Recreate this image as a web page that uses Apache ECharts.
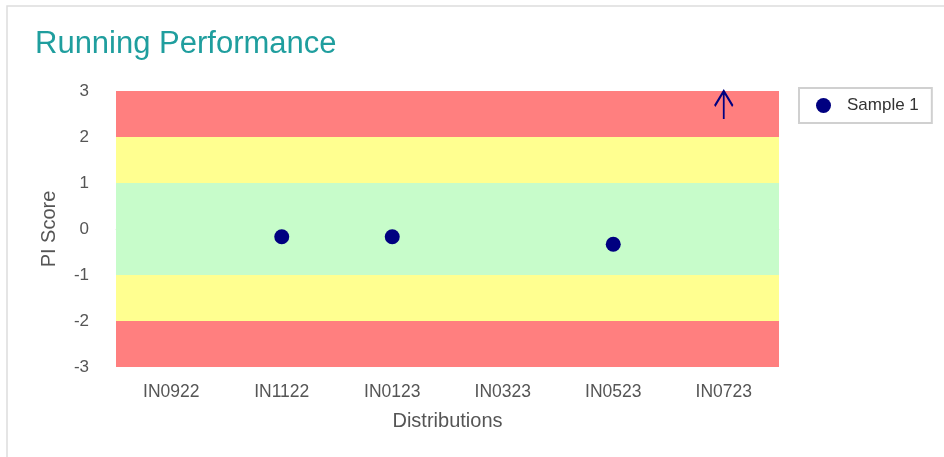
<!DOCTYPE html>
<html>
<head>
<meta charset="utf-8">
<title>Running Performance</title>
<script src="https://cdn.jsdelivr.net/npm/echarts@6/dist/echarts.min.js"></script>
<style>
  html, body { margin: 0; padding: 0; background: #ffffff; }
  #chart { width: 944px; height: 457px; }
</style>
</head>
<body>
<div id="chart"></div>
<script>
// Distribution rounds shown along the x axis
const categories = ['IN0922', 'IN1122', 'IN0123', 'IN0323', 'IN0523', 'IN0723'];
// PI scores for Sample 1 (null = no result for that round)
const sampleScores = [null, -0.17, -0.17, null, -0.33, null];
// Rounds where the score lies above the top of the scale
const aboveScale = [false, false, false, false, false, true];
// Score axis range and tick labels
const scoreMin = -3;
const scoreMax = 3;
const scoreTicks = [-3, -2, -1, 0, 1, 2, 3];
// Performance zones as [from, to] score ranges
const zoneRanges = [[2, 3], [1, 2], [-1, 1], [-2, -1], [-3, -2]];
const zoneKinds = ['action', 'warning', 'ok', 'warning', 'action'];

const zoneColors = { action: '#ff7f7f', warning: '#ffff90', ok: '#c7fcca' };
const fontFamily = '"Liberation Sans", Arial, Helvetica, sans-serif';
const markColor = '#000080';

const chart = echarts.init(document.getElementById('chart'), null, { renderer: 'canvas' });

const zoneData = zoneRanges.map((r, i) => [
  { yAxis: r[0], itemStyle: { color: zoneColors[zoneKinds[i]] } },
  { yAxis: r[1] }
]);

// Off-scale results are pinned to the top of the axis and shown as an arrow
const arrowData = aboveScale.map(v => (v ? scoreMax : null));

chart.setOption({
  animation: false,
  backgroundColor: '#ffffff',
  textStyle: { fontFamily: fontFamily },
  graphic: [{
    type: 'rect',
    shape: { x: 7, y: 6, width: 1000, height: 1000 },
    style: { fill: 'none', stroke: '#dddddd', lineWidth: 1.5 },
    silent: true
  }],
  title: {
    text: 'Running Performance',
    left: 35,
    top: 29,
    padding: 0,
    textStyle: { color: '#1f9e9e', fontSize: 31, fontWeight: 'normal', fontFamily: fontFamily }
  },
  legend: {
    data: ['Sample 1'],
    left: 799,
    top: 88,
    orient: 'vertical',
    icon: 'circle',
    itemWidth: 15,
    itemHeight: 15,
    padding: [9, 13, 9, 17],
    borderColor: '#d0d0d0',
    borderWidth: 2,
    borderRadius: 0,
    textStyle: { color: '#333333', fontSize: 17, padding: [0, 0, 0, 11], fontFamily: fontFamily }
  },
  grid: { left: 116, right: 165, top: 91, bottom: 90 },
  xAxis: {
    type: 'category',
    data: categories,
    name: 'Distributions',
    nameLocation: 'middle',
    nameGap: 44,
    nameTextStyle: { color: '#555555', fontSize: 20, fontFamily: fontFamily },
    axisLine: { show: true, lineStyle: { color: '#e2e2e2', width: 1 } },
    axisTick: { show: false },
    axisLabel: { color: '#555555', fontSize: 17.5, margin: 16, fontFamily: fontFamily },
    splitLine: { show: false }
  },
  yAxis: {
    type: 'value',
    min: scoreMin,
    max: scoreMax,
    interval: 1,
    name: 'PI Score',
    nameLocation: 'middle',
    nameRotate: 90,
    nameGap: 57,
    nameTextStyle: { color: '#555555', fontSize: 20, fontFamily: fontFamily },
    axisLine: { show: false },
    axisTick: { show: false },
    splitLine: { show: false },
    axisLabel: {
      color: '#555555',
      fontSize: 17,
      margin: 27,
      fontFamily: fontFamily,
      formatter: v => (scoreTicks.indexOf(v) >= 0 ? String(v) : '')
    }
  },
  series: [
    {
      name: 'Sample 1',
      type: 'scatter',
      data: sampleScores,
      symbol: 'circle',
      symbolSize: 15,
      itemStyle: { color: markColor, opacity: 1 },
      z: 3,
      markArea: {
        silent: true,
        z: 1,
        itemStyle: { opacity: 1, borderWidth: 0 },
        data: zoneData
      }
    },
    {
      name: 'Above scale',
      type: 'scatter',
      data: arrowData,
      symbol: 'path://M9,0 L9,28 M1,15 L9,0 L17,15',
      symbolSize: [18, 28],
      symbolOffset: [0, '50%'],
      itemStyle: { color: 'rgba(0,0,0,0)', borderColor: markColor, borderWidth: 2.2, opacity: 1 },
      z: 4
    }
  ]
});
</script>
</body>
</html>
